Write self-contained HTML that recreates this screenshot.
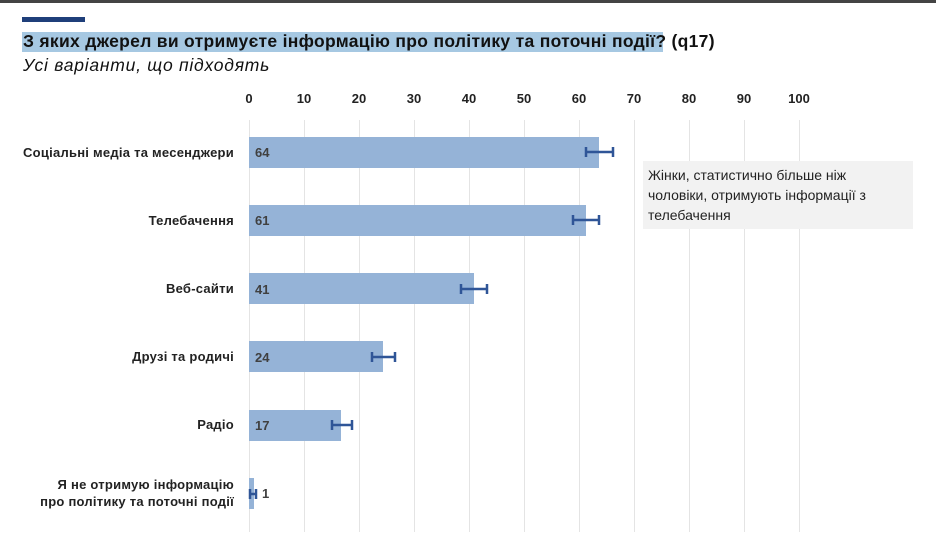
<!DOCTYPE html>
<html><head><meta charset="utf-8"><style>
body{margin:0;width:936px;height:554px;background:#fff;font-family:"Liberation Sans","DejaVu Sans",sans-serif;position:relative;overflow:hidden}
.a{position:absolute}
.lbl{position:absolute;right:702px;font-size:13px;font-weight:bold;color:#222;text-align:right;line-height:17px;letter-spacing:0.25px}
.bar{position:absolute;left:249px;height:31px;background:#95b3d7}
.v{position:absolute;font-size:13px;font-weight:bold;color:#404040}
.tick{position:absolute;top:91px;font-size:13px;font-weight:bold;color:#222;width:40px;text-align:center}
.g{position:absolute;top:120px;height:412px;width:1px;background:#e4e4e4}
</style></head><body>
<div class="a" style="left:0;top:0;width:936px;height:3px;background:#444"></div>
<div class="a" style="left:22px;top:17px;width:63px;height:5px;background:#1f3f7a"></div>
<div class="a" style="left:22px;top:32px;width:641px;height:20px;background:#a6c8e2"></div>
<div class="a" style="left:23px;top:31px;font-size:17.5px;font-weight:bold;color:#111;white-space:nowrap;letter-spacing:0.3px">З яких джерел ви отримуєте інформацію про політику та поточні події? (q17)</div>
<div class="a" style="left:23px;top:55px;font-size:17.5px;font-style:italic;color:#111;white-space:nowrap;letter-spacing:0.75px">Усі варіанти, що підходять</div>

<div class="g" style="left:249px"></div><div class="g" style="left:304px"></div><div class="g" style="left:359px"></div><div class="g" style="left:414px"></div><div class="g" style="left:469px"></div><div class="g" style="left:524px"></div><div class="g" style="left:579px"></div><div class="g" style="left:634px"></div><div class="g" style="left:689px"></div><div class="g" style="left:744px"></div><div class="g" style="left:799px"></div>
<div class="tick" style="left:229px">0</div><div class="tick" style="left:284px">10</div><div class="tick" style="left:339px">20</div><div class="tick" style="left:394px">30</div><div class="tick" style="left:449px">40</div><div class="tick" style="left:504px">50</div><div class="tick" style="left:559px">60</div><div class="tick" style="left:614px">70</div><div class="tick" style="left:669px">80</div><div class="tick" style="left:724px">90</div><div class="tick" style="left:779px">100</div>

<div class="lbl" style="top:144px">Соціальні медіа та месенджери</div>
<div class="lbl" style="top:212px">Телебачення</div>
<div class="lbl" style="top:280px">Веб-сайти</div>
<div class="lbl" style="top:348px">Друзі та родичі</div>
<div class="lbl" style="top:416px">Радіо</div>
<div class="lbl" style="top:476px">Я не отримую інформацію<br>про політику та поточні події</div>

<div class="bar" style="top:137px;width:350px"></div><div class="v" style="left:255px;top:145px">64</div>
<div class="bar" style="top:205px;width:337px"></div><div class="v" style="left:255px;top:213px">61</div>
<div class="bar" style="top:273px;width:225px"></div><div class="v" style="left:255px;top:282px">41</div>
<div class="bar" style="top:341px;width:134px"></div><div class="v" style="left:255px;top:350px">24</div>
<div class="bar" style="top:410px;width:92px"></div><div class="v" style="left:255px;top:418px">17</div>
<div class="bar" style="top:478px;width:5px"></div><div class="v" style="left:262px;top:486px">1</div>

<svg class="a" style="left:0;top:0" width="936" height="554" stroke="#2f5597" stroke-width="2.5" fill="none">
<path d="M586 152H613M586 147V157M613 147V157"/>
<path d="M573 220H599M573 215V225M599 215V225"/>
<path d="M461 289H487M461 284V294M487 284V294"/>
<path d="M372 357H395M372 352V362M395 352V362"/>
<path d="M332 425H352M332 420V430M352 420V430"/>
<path d="M250 494H256M250 489V499M256 489V499"/>
</svg>

<div class="a" style="left:643px;top:161px;width:260px;height:60px;padding:4px 5px;background:#f2f2f2;font-size:14px;line-height:20px;color:#222">Жінки, статистично більше ніж чоловіки, отримують інформації з телебачення</div>
</body></html>
